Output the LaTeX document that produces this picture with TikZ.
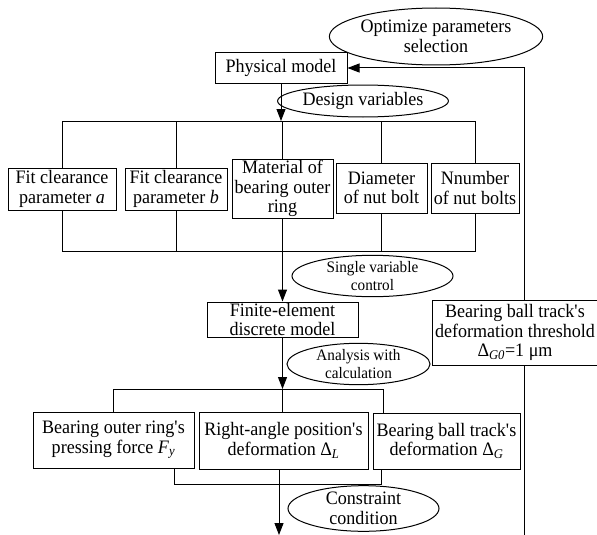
\documentclass[tikz,border=0pt]{standalone}
\usepackage{fontspec}
\setmainfont{Liberation Serif}[FakeStretch=0.95]
\usetikzlibrary{shapes.geometric,arrows.meta}
\newcommand{\sq}{\textquotesingle}
\begin{document}
\begin{tikzpicture}[x=1pt,y=-1pt,
  box/.style={draw,line width=1pt,inner sep=0pt,align=center,font=\fontsize{19}{19.5}\selectfont},
  oval/.style={draw,ellipse,line width=1pt,inner sep=0pt,align=center,font=\fontsize{19}{19.5}\selectfont},
  small/.style={font=\fontsize{16}{18}\selectfont},
  line/.style={line width=1pt},
  arr/.style={line width=1pt,-{Triangle[length=12pt,width=9pt]}}]
\useasboundingbox (0,0) rectangle (597,535);
\node[oval,minimum width=176,minimum height=57] (opt) at (436,36.5) {Optimize parameters\\selection};
\node[box,minimum width=132,minimum height=30] (phys) at (281,68) {Physical model};
\node[oval,minimum width=151,minimum height=32] (dv) at (363,101) {Design variables};
\node[box,minimum width=108,minimum height=42] (fa) at (62,189) {Fit clearance\\parameter \textit{a}};
\node[box,minimum width=102,minimum height=42] (fb) at (176,189) {Fit clearance\\parameter \textit{b}};
\node[box,minimum width=101,minimum height=59] (mat) at (282.5,188.5) {Material of\\bearing outer\\ring};
\node[box,minimum width=91,minimum height=50] (dia) at (381.5,188) {Diameter\\of nut bolt};
\node[box,minimum width=88,minimum height=50] (nn) at (475,188) {Nnumber\\of nut bolts};
\node[oval,small,minimum width=161,minimum height=38] (sv) at (372.5,276) {Single variable\\control};
\node[box,minimum width=166,minimum height=65] (th) at (515,332.5) {Bearing ball track\sq s\\deformation threshold\\Δ\textsubscript{\textit{G0}}=1 μm};
\node[box,minimum width=151,minimum height=35] (fe) at (282.5,319.5) {Finite-element\\discrete model};
\node[oval,small,minimum width=143,minimum height=38] (an) at (358.5,364) {Analysis with\\calculation};
\node[box,minimum width=161,minimum height=56] (ob) at (113.5,440) {Bearing outer ring\sq s\\pressing force \textit{F}\textsubscript{\textit{y}}};
\node[box,minimum width=169,minimum height=57] (ra) at (283.5,440.5) {Right-angle position\sq s\\deformation Δ\textsubscript{\textit{L}}};
\node[box,minimum width=147,minimum height=56] (bt) at (446.5,441) {Bearing ball track\sq s\\deformation Δ\textsubscript{\textit{G}}};
\node[oval,minimum width=151,minimum height=37] (cc) at (363.5,508.5) {Constraint\\condition};
% bus coordinates
\coordinate (bus1) at (0,121);
\coordinate (bus2) at (0,251);
\coordinate (bus3) at (0,389);
\coordinate (j3r) at (383,389);
\coordinate (j4l) at (174,484);
\coordinate (j4r) at (381,484);
\coordinate (endp) at (279,535);
\coordinate (fbtop) at (524,68);
\coordinate (fbbot) at (524,535);
% top bus
\draw[line] (fa.north) |- (bus1 -| nn.north) -- (nn.north);
\draw[line] (fb.north) -- (fb.north |- bus1);
\draw[line] (mat.north) -- (mat.north |- bus1);
\draw[line] (dia.north) -- (dia.north |- bus1);
\draw[arr] (phys.south) -- (phys.south |- bus1);
% second bus
\draw[line] (fa.south) |- (bus2 -| nn.south) -- (nn.south);
\draw[line] (fb.south) -- (fb.south |- bus2);
\draw[line] (dia.south) -- (dia.south |- bus2);
\draw[arr] (mat.south) -- (fe.north);
% third bus
\draw[arr] (fe.south) -- (fe.south |- bus3);
\draw[line] (ob.north) |- (j3r) -- (j3r |- bt.north);
\draw[line] (ra.north -| fe.south) -- (fe.south |- bus3);
% fourth bus
\draw[line] (j4l |- ob.south) -- (j4l) -- (j4r) -- (j4r |- bt.south);
\draw[arr] (endp |- ra.south) -- (endp);
% feedback
\draw[arr] (fbtop |- th.north) -- (fbtop) -- (phys.east);
\draw[line] (fbbot |- th.south) -- (fbbot);
\end{tikzpicture}
\end{document}
